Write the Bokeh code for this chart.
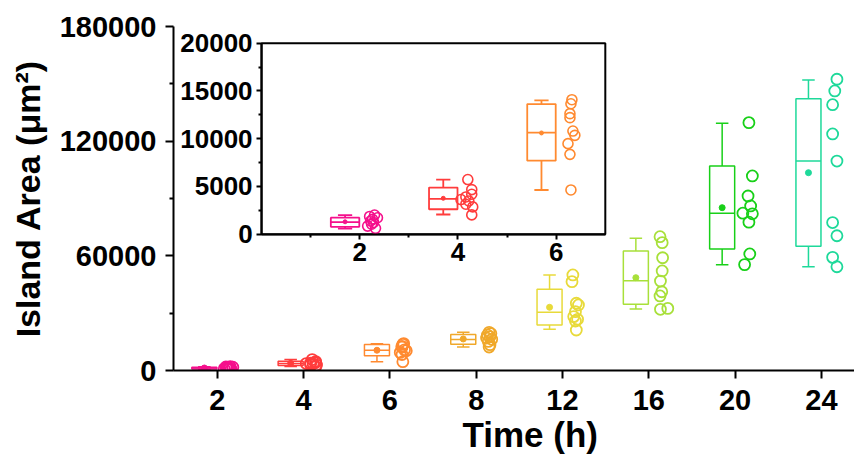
from bokeh.plotting import figure
from bokeh.models import (Range1d, LinearAxis, FixedTicker,
                          Title, ColumnDataSource, BasicTickFormatter)
from bokeh.transform import dodge
from bokeh.embed import file_html
from bokeh.resources import INLINE

# ---------------- data ----------------
times = ["2", "4", "6", "8", "12", "16", "20", "24"]
colors = ["#F5108C", "#FF3C3C", "#FF8A30", "#F0A82A", "#E8DA3A", "#A8E03A", "#18D018", "#1ED99A"]
whisker_lo = [580, 2060, 4630, 12300, 21560, 32180, 55370, 54320]
q1 = [770, 2610, 7700, 13700, 23810, 34640, 63580, 64990]
median = [1260, 3690, 10630, 16200, 30460, 47000, 82260, 109630]
q3 = [1730, 4880, 13620, 18900, 42490, 62530, 107000, 142240]
whisker_hi = [2000, 5720, 14010, 20000, 49980, 69180, 129360, 152000]
means = [1300, 3760, 10600, 16500, 33070, 48560, 85200, 103500]

pts_2h = [2010, 1860, 1720, 1560, 1380, 1230, 1040, 850, 620]
pts_4h = [5720, 4670, 4180, 3900, 3630, 3480, 3140, 2860, 2020]
pts_6h = [14080, 13660, 12620, 12200, 10800, 10350, 9480, 8360, 4630]
pts_8h = [20000, 19300, 18600, 17700, 17000, 16300, 15200, 13500, 12300]
pts_12h = [50000, 46500, 35200, 34300, 30800, 28200, 26800, 25900, 21200]
pts_16h = [70000, 66900, 59000, 52100, 46800, 41200, 39000, 32000, 32500]
pts_20h = [129700, 101800, 91300, 86100, 82300, 82000, 77600, 61000, 55400]
pts_24h = [152400, 146300, 139100, 123800, 109600, 77400, 70500, 59200, 54300]
points = [pts_2h, pts_4h, pts_6h, pts_8h, pts_12h, pts_16h, pts_20h, pts_24h]

# horizontal scatter of the raw points (in category widths)
jit_2h = [0.15, 0.10, 0.18, 0.13, 0.11, 0.14, 0.12, 0.08, 0.16]
jit_4h = [0.10, 0.14, 0.14, 0.08, 0.03, 0.11, 0.08, 0.15, 0.14]
jit_6h = [0.16, 0.15, 0.14, 0.14, 0.17, 0.19, 0.12, 0.14, 0.15]
jit_8h = [0.15, 0.17, 0.13, 0.16, 0.12, 0.18, 0.14, 0.16, 0.15]
jit_12h = [0.12, 0.11, 0.16, 0.185, 0.15, 0.13, 0.175, 0.15, 0.16]
jit_16h = [0.13, 0.155, 0.16, 0.155, 0.135, 0.15, 0.13, 0.135, 0.22]
jit_20h = [0.16, 0.20, 0.15, 0.18, 0.09, 0.20, 0.16, 0.17, 0.11]
jit_24h = [0.18, 0.155, 0.13, 0.13, 0.18, 0.13, 0.18, 0.13, 0.18]
jitter = [jit_2h, jit_4h, jit_6h, jit_8h, jit_12h, jit_16h, jit_20h, jit_24h]

main_y_ticks = [0, 60000, 120000, 180000]
main_y_minor = [30000, 90000, 150000]
inset_count = 3          # the inset zooms on 2, 4 and 6 h
inset_x_ticks = [2, 4, 6]
inset_x_minor = [1, 3, 5]
inset_y_ticks = [0, 5000, 10000, 15000, 20000]
inset_y_minor = [2500, 7500, 12500, 17500]

# ---------------- style / layout ----------------
FONT = "Liberation Sans"
BOX_OFF, BOX_W = -0.15, 0.29
IN_K = 2.0               # inset category width relative to main
W, H = 854, 454

positions = list(range(1, len(times) + 1))

p = figure(width=W, height=H, output_backend="svg", toolbar_location=None,
           x_range=Range1d(0.4925, 8.3835), y_range=Range1d(0, 180000),
           min_border_left=173, min_border_right=0, min_border_top=26, min_border_bottom=83)
p.outline_line_color = None
p.xgrid.visible = False
p.ygrid.visible = False
p.background_fill_color = "white"
p.border_fill_color = "white"

for ax in (p.xaxis[0], p.yaxis[0]):
    ax.axis_line_width = 2
    ax.major_tick_line_width = 2
    ax.minor_tick_line_width = 2
    ax.major_tick_in = 0
    ax.minor_tick_in = 0
    ax.major_label_text_font = FONT
    ax.major_label_text_font_style = "bold"
    ax.major_label_text_font_size = "29px"
    ax.major_label_text_color = "black"
    ax.axis_line_color = "black"
    ax.major_tick_line_color = "black"
    ax.minor_tick_line_color = "black"

p.xaxis[0].ticker = FixedTicker(ticks=positions, minor_ticks=[])
p.xaxis[0].major_label_overrides = {pos: t for pos, t in zip(positions, times)}
p.xaxis[0].major_tick_out = 8
p.xaxis[0].major_label_standoff = 11

p.yaxis[0].ticker = FixedTicker(ticks=main_y_ticks, minor_ticks=main_y_minor)
p.yaxis[0].formatter = BasicTickFormatter(use_scientific=False)
p.yaxis[0].major_tick_out = 8
p.yaxis[0].minor_tick_out = 4
p.yaxis[0].major_label_standoff = 9
p.yaxis[0].axis_label = "Island Area (\u03bcm\u00b2)"
p.yaxis[0].axis_label_text_font = FONT
p.yaxis[0].axis_label_text_font_style = "bold"
p.yaxis[0].axis_label_text_font_size = "34px"
p.yaxis[0].axis_label_text_color = "black"
p.yaxis[0].axis_label_standoff = 10

p.add_layout(Title(text="Time (h)", align="left", offset=289, standoff=1,
                   text_font=FONT, text_font_style="bold", text_font_size="35px",
                   text_color="black"), "below")

src = ColumnDataSource(dict(pos=positions, lo=whisker_lo, q1=q1, med=median,
                            q3=q3, hi=whisker_hi, mean=means, color=colors))


def draw_boxes(source, xcol, k, lw, mean_size, **rng):
    off, w = BOX_OFF * k, BOX_W * k
    p.vbar(x=dodge(xcol, off), width=w, bottom="q1", top="q3", source=source,
           fill_color=None, line_color="color", line_width=lw, **rng)
    p.segment(x0=dodge(xcol, off - w / 2), x1=dodge(xcol, off + w / 2), y0="med", y1="med",
              source=source, line_color="color", line_width=lw, **rng)
    p.segment(x0=dodge(xcol, off), x1=dodge(xcol, off), y0="q3", y1="hi",
              source=source, line_color="color", line_width=lw, **rng)
    p.segment(x0=dodge(xcol, off), x1=dodge(xcol, off), y0="q1", y1="lo",
              source=source, line_color="color", line_width=lw, **rng)
    p.segment(x0=dodge(xcol, off - w / 4), x1=dodge(xcol, off + w / 4), y0="hi", y1="hi",
              source=source, line_color="color", line_width=lw, **rng)
    p.segment(x0=dodge(xcol, off - w / 4), x1=dodge(xcol, off + w / 4), y0="lo", y1="lo",
              source=source, line_color="color", line_width=lw, **rng)
    p.scatter(x=dodge(xcol, off), y="mean", source=source, size=mean_size,
              fill_color="color", line_color="color", **rng)


def point_source(n_groups, base, k):
    xs, ys, cs = [], [], []
    for g in range(n_groups):
        for v, j in zip(points[g], jitter[g]):
            xs.append(base[g] + j * k)
            ys.append(v)
            cs.append(colors[g])
    return ColumnDataSource(dict(x=xs, y=ys, color=cs))


# ---------------- main chart ----------------
draw_boxes(src, "pos", 1.0, 1.5, 6)
p.scatter(x="x", y="y", source=point_source(len(times), positions, 1.0), size=11,
          fill_color=None, line_color="color", line_width=1.8)

# ---------------- inset ----------------
p.extra_x_ranges = {"ix": Range1d(-1.794, 12.075)}
p.extra_y_ranges = {"iy": Range1d(-14271, 21746)}
rng = dict(x_range_name="ix", y_range_name="iy")

p.quad(left=[0], right=[7], bottom=[inset_y_ticks[0]], top=[inset_y_ticks[-1]],
       fill_color="white", line_color="black", line_width=2, **rng)

inset_t = [float(t) for t in times[:inset_count]]
isrc = ColumnDataSource(dict(t=inset_t, lo=whisker_lo[:inset_count],
                             q1=q1[:inset_count], med=median[:inset_count], q3=q3[:inset_count],
                             hi=whisker_hi[:inset_count], mean=means[:inset_count],
                             color=colors[:inset_count]))
draw_boxes(isrc, "t", IN_K, 1.8, 4, **rng)
p.scatter(x="x", y="y", source=point_source(inset_count, inset_t, IN_K),
          size=10, fill_color=None, line_color="color", line_width=1.6, **rng)

iy = LinearAxis(x_range_name="ix", y_range_name="iy", fixed_location=0,
                bounds=(inset_y_ticks[0], inset_y_ticks[-1]),
                ticker=FixedTicker(ticks=inset_y_ticks, minor_ticks=inset_y_minor),
                formatter=BasicTickFormatter(use_scientific=False))
ix = LinearAxis(x_range_name="ix", y_range_name="iy", fixed_location=0, bounds=(0, 7),
                ticker=FixedTicker(ticks=inset_x_ticks, minor_ticks=inset_x_minor))
for ax in (iy, ix):
    ax.axis_line_width = 2
    ax.major_tick_line_width = 2
    ax.minor_tick_line_width = 2
    ax.major_tick_in = 0
    ax.minor_tick_in = 0
    ax.major_tick_out = 5
    ax.minor_tick_out = 3
    ax.major_label_text_font = FONT
    ax.major_label_text_font_style = "bold"
    ax.major_label_text_font_size = "26px"
    ax.major_label_text_color = "black"
    ax.major_label_standoff = 4
p.add_layout(iy, "left")
p.add_layout(ix, "below")

open("out.html", "w").write(file_html(p, INLINE))
